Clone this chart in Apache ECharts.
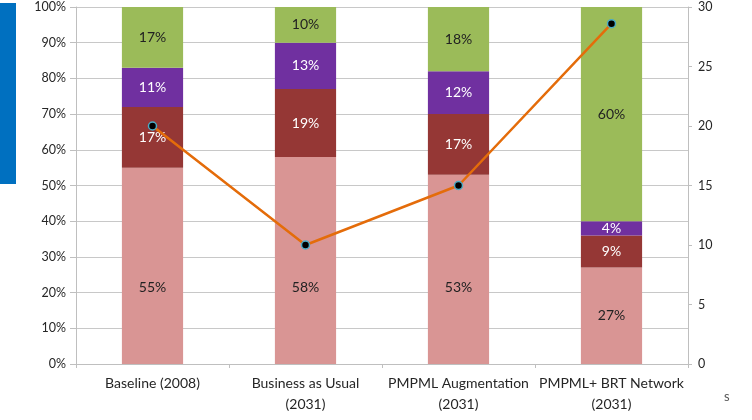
<!DOCTYPE html>
<html>
<head>
<meta charset="utf-8">
<script src="https://cdn.jsdelivr.net/npm/echarts@6/dist/echarts.min.js"></script>
<style>html,body{margin:0;padding:0;background:#fff}#c{width:752px;height:420px}</style>
</head>
<body>
<div id="c"></div>
<script>
const categories = ['Baseline (2008)', 'Business as Usual\n(2031)', 'PMPML Augmentation\n(2031)', 'PMPML+ BRT Network\n(2031)'];
const seriesPink = [55, 58, 53, 27];
const seriesDarkRed = [17, 19, 17, 9];
const seriesPurple = [11, 13, 12, 4];
const seriesGreen = [17, 10, 18, 60];
const lineValues = [20, 10, 15, 28.6];
const leftTicks = [0, 10, 20, 30, 40, 50, 60, 70, 80, 90, 100];
const rightTicks = [0, 5, 10, 15, 20, 25, 30];

const font = 'Lato, "Open Sans", sans-serif';
const chart = echarts.init(document.getElementById('c'), null, {renderer: 'canvas'});
const plotH = 420 - 7 - 56;

function barSeries(name, data, color, labelColor, lowLabel) {
  return {
    name: name, type: 'bar', stack: 'total', barWidth: '40%',
    data: data.map(v => {
      const item = {value: v};
      if (lowLabel && v > 45) {
        item.label = {offset: [0, (v / 2 - 21.5) / 100 * plotH]};
      }
      return item;
    }),
    itemStyle: {color: color},
    label: {show: true, position: 'inside', formatter: '{c}%', color: labelColor, fontSize: 14, fontFamily: font},
    z: 2
  };
}

chart.setOption({
  animation: false,
  textStyle: {fontFamily: font},
  grid: {left: 76, right: 64, top: 7, bottom: 56, containLabel: false},
  xAxis: {
    type: 'category', data: categories,
    axisLine: {lineStyle: {color: '#bfbfbf', width: 1}},
    axisTick: {show: true, length: 4, lineStyle: {color: '#bfbfbf'}},
    axisLabel: {color: '#262626', fontSize: 14, margin: 9, lineHeight: 21, interval: 0, fontFamily: font}
  },
  yAxis: [
    {
      type: 'value', min: 0, max: 100, interval: 10, position: 'left',
      axisLine: {show: true, lineStyle: {color: '#bfbfbf'}},
      axisTick: {show: true, length: 6, lineStyle: {color: '#bfbfbf'}},
      axisLabel: {color: '#262626', fontSize: 12.5, margin: 10, formatter: v => leftTicks.includes(v) ? v + '%' : '', fontFamily: font},
      splitLine: {show: true, lineStyle: {color: '#c8c8c8', width: 1}}
    },
    {
      type: 'value', min: 0, max: 30, interval: 5, position: 'right',
      axisLine: {show: true, lineStyle: {color: '#bfbfbf'}},
      axisTick: {show: true, length: 4, lineStyle: {color: '#bfbfbf'}},
      axisLabel: {color: '#262626', fontSize: 12.5, margin: 10, formatter: v => rightTicks.includes(v) ? String(v) : '', fontFamily: font},
      splitLine: {show: false}
    }
  ],
  series: [
    barSeries('pink', seriesPink, '#D99594', '#222222', true),
    barSeries('darkred', seriesDarkRed, '#953735', '#ffffff'),
    barSeries('purple', seriesPurple, '#7030A0', '#ffffff'),
    barSeries('green', seriesGreen, '#9BBB59', '#222222'),
    {
      name: 'line', type: 'line', yAxisIndex: 1, data: lineValues,
      lineStyle: {color: '#E46C0A', width: 2.5},
      symbol: 'circle', symbolSize: 8,
      itemStyle: {color: '#000000', borderColor: '#4BACC6', borderWidth: 1.5},
      z: 5
    }
  ],
  graphic: [
    {type: 'rect', left: 0, top: 3, shape: {width: 16, height: 181}, style: {fill: '#0070C0'}},
    {type: 'text', left: 724, top: 390, style: {text: 's', fill: '#595959', font: '13px ' + font}}
  ]
});
</script>
</body>
</html>
